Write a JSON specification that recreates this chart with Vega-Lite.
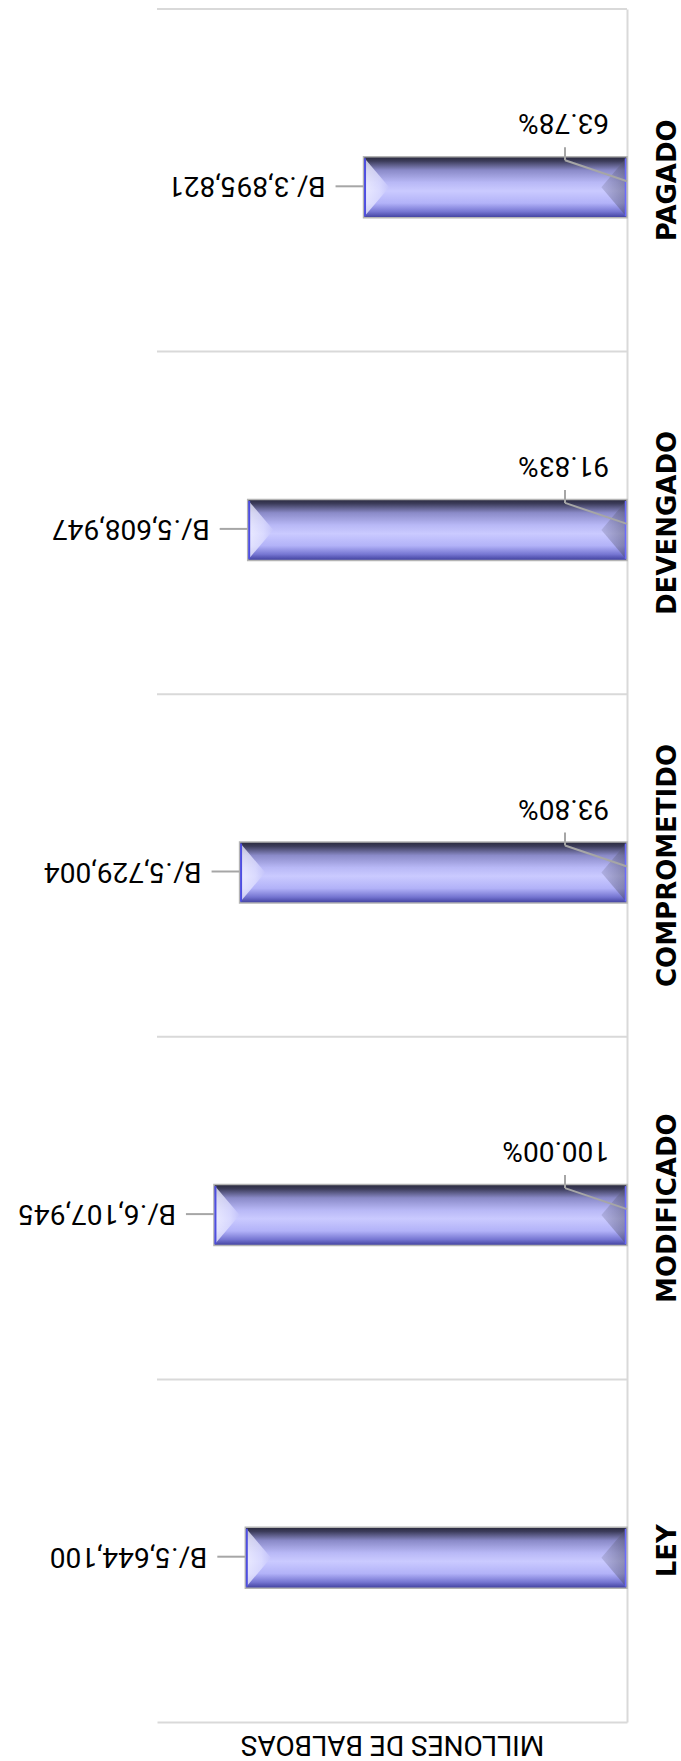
{
  "$schema": "https://vega.github.io/schema/vega-lite/v6.json",
  "width": 470,
  "height": 1713,
  "autosize": {"type": "none"},
  "padding": {"left": 157, "top": 9, "right": 54, "bottom": 39},
  "background": "white",
  "config": {"view": {"stroke": null}, "font": "Roboto"},
  "data": {
    "values": [
      {"etapa": "LEY", "monto": 5644100, "pct": null},
      {"etapa": "MODIFICADO", "monto": 6107945, "pct": 1.0},
      {"etapa": "COMPROMETIDO", "monto": 5729004, "pct": 0.938},
      {"etapa": "DEVENGADO", "monto": 5608947, "pct": 0.9183},
      {"etapa": "PAGADO", "monto": 3895821, "pct": 0.6378}
    ]
  },
  "transform": [
    {"calculate": "'B/.' + format(datum.monto, ',')", "as": "etiqueta"}
  ],
  "layer": [
    {
      "mark": {"type": "rule", "color": "#d9d9d9", "strokeWidth": 2},
      "encoding": {
        "y": {
          "field": "etapa", "type": "nominal", "bandPosition": 0, "title": null,
          "scale": {"domain": ["PAGADO", "DEVENGADO", "COMPROMETIDO", "MODIFICADO", "LEY"], "paddingInner": 0, "paddingOuter": 0},
          "axis": {
            "orient": "right", "title": null, "domain": true, "domainColor": "#d9d9d9", "domainWidth": 2,
            "ticks": false, "tickSize": 0, "grid": false,
            "labelAngle": -90, "labelAlign": "center", "labelBaseline": "top", "labelPadding": 27,
            "labelFont": "DejaVu Sans", "labelFontWeight": "bold", "labelFontSize": 26, "labelColor": "#000000",
            "labelLimit": 0, "labelOverlap": false
          }
        }
      }
    },
    {
      "mark": {
        "type": "bar", "height": 61, "yOffset": 7, "stroke": "#b4b4b4", "strokeWidth": 1.5,
        "fill": {
          "gradient": "linear", "x1": 0, "y1": 0, "x2": 0, "y2": 1,
          "stops": [
            {"offset": 0, "color": "#29293c"},
            {"offset": 0.07, "color": "#3c3c5a"},
            {"offset": 0.22, "color": "#8a8ac8"},
            {"offset": 0.42, "color": "#b8b8f6"},
            {"offset": 0.56, "color": "#cacaff"},
            {"offset": 0.76, "color": "#b2b2f8"},
            {"offset": 0.9, "color": "#7676d2"},
            {"offset": 1, "color": "#3e3e9c"}
          ]
        }
      },
      "encoding": {
        "y": {"field": "etapa", "type": "nominal", "title": null},
        "x": {
          "field": "monto", "type": "quantitative", "title": "MILLONES DE BALBOAS",
          "scale": {"domain": [0, 6950000], "reverse": true, "nice": false},
          "axis": {
            "orient": "bottom", "title": "MILLONES DE BALBOAS", "labels": false, "ticks": false, "grid": false,
            "domain": true, "domainColor": "#d9d9d9", "domainWidth": 2,
            "titleAngle": 180, "titleFont": "Roboto", "titleFontSize": 28, "titleFontWeight": "normal",
            "titleColor": "#000000", "titleBaseline": "middle", "titleAlign": "center", "titleY": 21
          }
        }
      }
    },
    {
      "mark": {
        "type": "point", "filled": true, "shape": "M-1,-1 L-0.15,0 L-1,1 Z", "size": 3364, "strokeWidth": 0,
        "fill": {
          "gradient": "linear", "x1": 0, "y1": 0, "x2": 1, "y2": 0,
          "stops": [
            {"offset": 0, "color": "#f4f4ff"},
            {"offset": 0.6, "color": "#e0e0ff"},
            {"offset": 1, "color": "#c4c4fa"}
          ]
        },
        "opacity": 0.75, "xOffset": 30, "yOffset": 7
      },
      "encoding": {
        "y": {"field": "etapa", "type": "nominal", "title": null},
        "x": {"field": "monto", "type": "quantitative", "title": "MILLONES DE BALBOAS"}
      }
    },
    {
      "mark": {
        "type": "point", "filled": true, "shape": "M1,-1 L0.15,0 L1,1 Z", "size": 3364, "strokeWidth": 0,
        "fill": {
          "gradient": "linear", "x1": 0, "y1": 0, "x2": 1, "y2": 0,
          "stops": [
            {"offset": 0, "color": "#9a9ac8"},
            {"offset": 1, "color": "#4a4a66"}
          ]
        },
        "opacity": 0.5, "xOffset": -30, "yOffset": 7
      },
      "encoding": {
        "y": {"field": "etapa", "type": "nominal", "title": null},
        "x": {"datum": 0, "type": "quantitative", "title": "MILLONES DE BALBOAS"}
      }
    },
    {
      "mark": {"type": "rule", "color": "#4e4ee0", "strokeWidth": 2, "xOffset": 1.5, "yOffset": -22, "y2Offset": 36},
      "encoding": {
        "y": {"field": "etapa", "type": "nominal", "title": null},
        "y2": {"field": "etapa", "bandPosition": 0.5},
        "x": {"field": "monto", "type": "quantitative", "title": "MILLONES DE BALBOAS"}
      }
    },
    {
      "mark": {"type": "rule", "color": "#6a6aff", "strokeWidth": 1.5, "xOffset": -1.5, "yOffset": -22, "y2Offset": 36},
      "encoding": {
        "y": {"field": "etapa", "type": "nominal", "title": null},
        "y2": {"field": "etapa", "bandPosition": 0.5},
        "x": {"datum": 0, "type": "quantitative", "title": "MILLONES DE BALBOAS"}
      }
    },
    {
      "mark": {"type": "rule", "color": "#a6a6a6", "strokeWidth": 2, "yOffset": 6, "x2Offset": -28},
      "encoding": {
        "y": {"field": "etapa", "type": "nominal", "title": null},
        "x": {"field": "monto", "type": "quantitative", "title": "MILLONES DE BALBOAS"},
        "x2": {"field": "monto"}
      }
    },
    {
      "mark": {"type": "text", "angle": 180, "align": "left", "baseline": "middle", "font": "Roboto", "fontSize": 28, "color": "#000000", "xOffset": -38, "yOffset": 5},
      "encoding": {
        "y": {"field": "etapa", "type": "nominal", "title": null},
        "x": {"field": "monto", "type": "quantitative", "title": "MILLONES DE BALBOAS"},
        "text": {"field": "etiqueta", "type": "nominal"}
      }
    },
    {
      "transform": [{"filter": "datum.pct != null"}],
      "mark": {"type": "rule", "color": "#a6a6a6", "strokeWidth": 2, "yOffset": 1, "y2Offset": -20, "x2Offset": -62},
      "encoding": {
        "y": {"field": "etapa", "type": "nominal", "title": null},
        "y2": {"field": "etapa", "bandPosition": 0.5},
        "x": {"datum": 0, "type": "quantitative", "title": "MILLONES DE BALBOAS"},
        "x2": {"datum": 0}
      }
    },
    {
      "transform": [{"filter": "datum.pct != null"}],
      "mark": {"type": "rule", "color": "#a6a6a6", "strokeWidth": 2, "xOffset": -62, "yOffset": -20, "y2Offset": -33},
      "encoding": {
        "y": {"field": "etapa", "type": "nominal", "title": null},
        "y2": {"field": "etapa", "bandPosition": 0.5},
        "x": {"datum": 0, "type": "quantitative", "title": "MILLONES DE BALBOAS"}
      }
    },
    {
      "transform": [{"filter": "datum.pct != null"}],
      "mark": {"type": "text", "angle": 180, "align": "left", "baseline": "middle", "font": "Roboto", "fontSize": 28, "color": "#000000", "xOffset": -18, "yOffset": -58},
      "encoding": {
        "y": {"field": "etapa", "type": "nominal", "title": null},
        "x": {"datum": 0, "type": "quantitative", "title": "MILLONES DE BALBOAS"},
        "text": {"field": "pct", "type": "quantitative", "format": ".2%"}
      }
    }
  ]
}
